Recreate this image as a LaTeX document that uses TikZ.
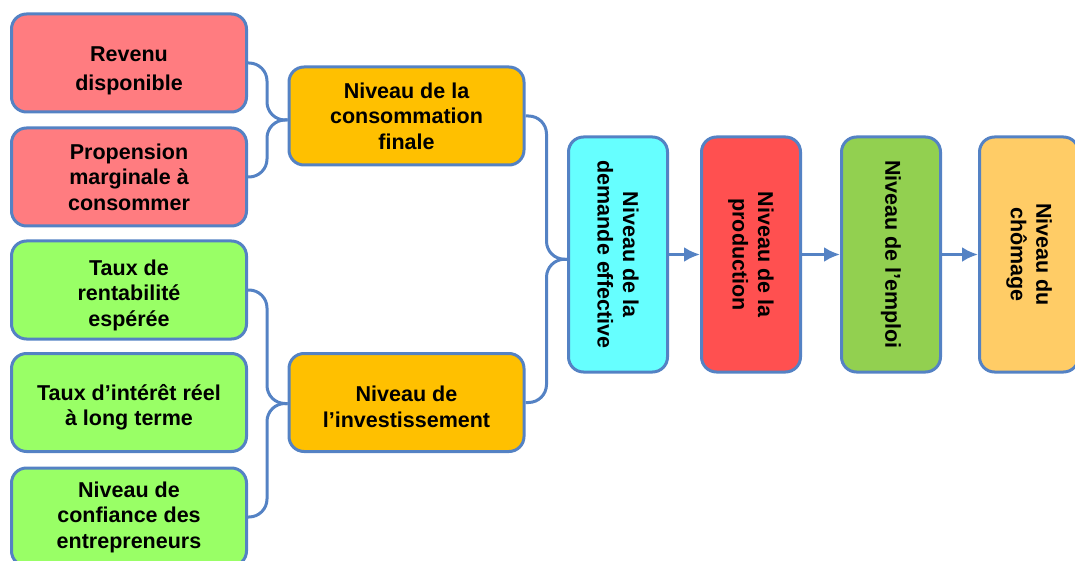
\documentclass[tikz,border=0pt]{standalone}
\usepackage{fontspec}
\setmainfont{Liberation Sans}
\usetikzlibrary{calc,arrows.meta}
\definecolor{bord}{RGB}{84,130,196}
\definecolor{rose}{RGB}{255,124,128}
\definecolor{vertclair}{RGB}{153,255,102}
\definecolor{orangeb}{RGB}{255,192,0}
\definecolor{cyanb}{RGB}{102,255,255}
\definecolor{rouge}{RGB}{255,80,80}
\definecolor{vertb}{RGB}{146,208,80}
\definecolor{jaune}{RGB}{255,204,102}
\tikzset{
  hop/.style={draw=bord, line width=3pt, rounded corners=15pt, align=center,
    minimum width=235pt, minimum height=98pt, inner sep=2pt},
  dung/.style={hop, rotate=-90, minimum width=235pt, minimum height=99pt},
  ngoac/.style={draw=bord, line width=3pt, rounded corners=18pt},
  muiten/.style={draw=bord, line width=3pt, ->}
}
\begin{document}
\begin{tikzpicture}[x=1pt, y=-1pt, font=\fontsize{21.5}{25.5}\selectfont\bfseries, line join=round, >={Latex[length=16pt,width=15pt]}]
\useasboundingbox (0,0) rectangle (1075,561);
\clip (0,0) rectangle (1075,561);
% cot trai
\node[hop, fill=rose] (R1) at (129,63) {\rule{0pt}{30pt}Revenu\\[3pt]disponible};
\node[hop, fill=rose] (R2) at (129,177) {Propension\\marginale à\\consommer};
\node[hop, fill=vertclair] (V1) at (129,290) {\rule{0pt}{26pt}Taux de\\rentabilité\\espérée};
\node[hop, fill=vertclair] (V2) at (129,402.5) {\rule{0pt}{26pt}Taux d’intérêt réel\\à long terme};
\node[hop, fill=vertclair] (V3) at (129,517) {Niveau de\\confiance des\\entrepreneurs};
% cot giua
\node[hop, fill=orangeb] (C) at (406.5,116) {Niveau de la\\consommation\\finale};
\node[hop, fill=orangeb] (I) at (406.5,402.5) {\rule{0pt}{24pt}Niveau de\\l’investissement};
% cac hop dung
\node[dung, fill=cyanb] (D) at (618,254.5) {Niveau de la\\demande effective};
\node[dung, fill=rouge] (S) at (751,254.5) {Niveau de la\\production};
\node[dung, fill=vertb] (E) at (891,254.5) {Niveau de l’emploi};
\node[dung, fill=jaune] (U) at (1029,254.5) {Niveau du\\chômage};
% ngoac
\coordinate (T1) at ($(R1.east)!0.5!(R2.east)$);
\coordinate (T2) at ($(C.east)!0.5!(I.east)$);
\coordinate (T3) at ($(V1.east)!0.5!(V3.east)$);
\foreach \a in {R1,R2} \draw[ngoac] (\a.east) -| ($(T1)+(19,0)$) -- (T1 -| C.west);
\foreach \a in {C,I} \draw[ngoac] (\a.east) -| ($(T2)+(21,0)$) -- (T2 -| D.south);
\foreach \a in {V1,V3} \draw[ngoac] (\a.east) -| ($(T3)+(19,0)$) -- (T3 -| I.west);
% mui ten
\foreach \a/\b in {D/S,S/E,E/U} \draw[muiten] (\a) -- (\b);
\end{tikzpicture}
\end{document}
